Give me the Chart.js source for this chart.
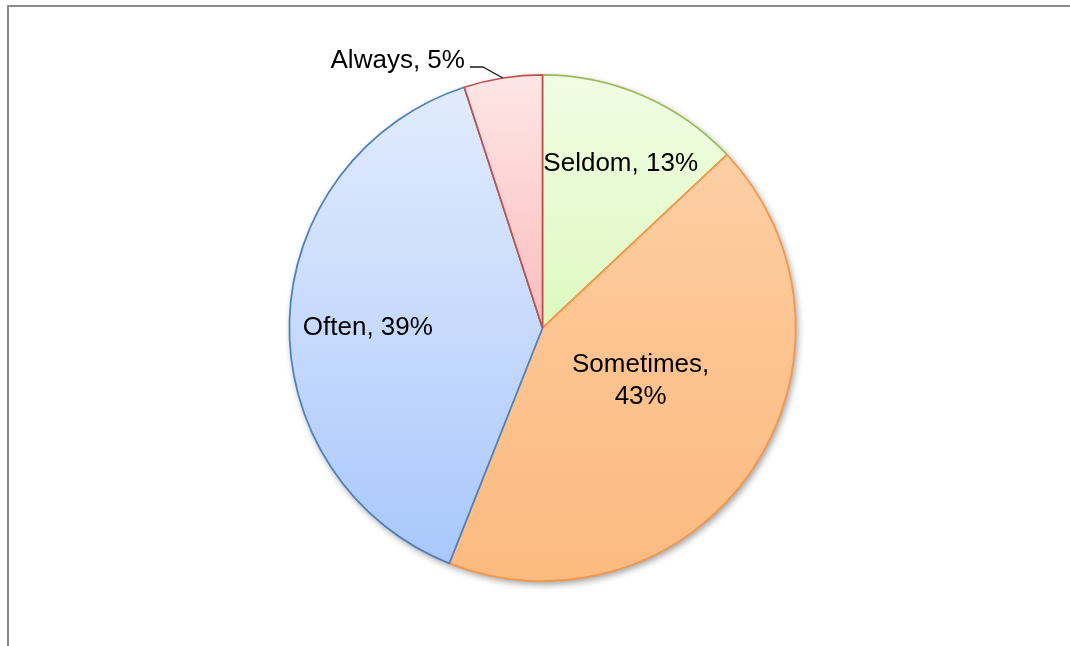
<!DOCTYPE html>
<html>
<head>
<meta charset="utf-8">
<title>How often</title>
<script src="https://cdn.jsdelivr.net/npm/chart.js@4.4.1/dist/chart.umd.min.js"></script>
<style>
  html, body { margin: 0; padding: 0; background: #fff; }
  .wrap { width: 1070px; height: 646px; }
</style>
</head>
<body>
<div class="wrap"><canvas id="pieChart"></canvas></div>
<script>
const categories = ['Seldom', 'Sometimes', 'Often', 'Always'];
const shares = [13, 43, 39, 5];

const edgeColors = ['#9bbb59', '#f79646', '#4f81bd', '#c0504d'];
const fillStops = [
    ['#f1fde4', '#def8c0', '#cbf29e'],
    ['#fdd3ae', '#fdc592', '#fbba80'],
    ['#e2ecfd', '#c7dafc', '#a6c6fc'],
    ['#fee6e6', '#fbbdbd', '#f9a3a3']
];
// label spot per slice: fraction of radius + small angle nudge (deg)
const labelPlace = [
    { r: 0.72, da: 2 },
    { r: 0.44, da: -6, wrap: true },
    { r: 0.69, da: -1.6 },
    { outside: true }
];

function sliceFill(context) {
    const i = context.dataIndex;
    const area = context.chart.chartArea;
    if (!area) return fillStops[i][1];
    const g = context.chart.ctx.createLinearGradient(0, area.top, 0, area.bottom);
    g.addColorStop(0, fillStops[i][0]);
    g.addColorStop(0.5, fillStops[i][1]);
    g.addColorStop(1, fillStops[i][2]);
    return g;
}

const framePlugin = {
    id: 'frame',
    beforeDraw(chart) {
        const c = chart.ctx;
        c.save();
        c.fillStyle = '#fff';
        c.fillRect(0, 0, chart.width, chart.height);
        c.fillStyle = '#8a8a8a';
        c.fillRect(7, 5, chart.width - 7, 2);
        c.fillRect(7, 5, 2, chart.height - 5);
        c.restore();
    }
};

const shadowPlugin = {
    id: 'pieShadow',
    beforeDatasetsDraw(chart) {
        const arc = chart.getDatasetMeta(0).data[0];
        if (!arc) return;
        const c = chart.ctx;
        c.save();
        c.shadowColor = 'rgba(0,0,0,0.4)';
        c.shadowBlur = 7;
        c.shadowOffsetX = 2;
        c.shadowOffsetY = 3;
        c.fillStyle = '#fff';
        c.beginPath();
        c.arc(arc.x, arc.y, arc.outerRadius, 0, Math.PI * 2);
        c.fill();
        c.restore();
    }
};

const labelPlugin = {
    id: 'sliceLabels',
    afterDatasetsDraw(chart) {
        const c = chart.ctx;
        const arcs = chart.getDatasetMeta(0).data;
        c.save();
        c.font = '26px "Liberation Sans", Arial, sans-serif';
        c.fillStyle = '#000';
        arcs.forEach((arc, i) => {
            const place = labelPlace[i];
            const text = categories[i] + ', ' + shares[i] + '%';
            const mid = (arc.startAngle + arc.endAngle) / 2;
            if (place.outside) {
                // leader line from the rim out to the label
                const ex = arc.x + arc.outerRadius * Math.cos(mid);
                const ey = arc.y + arc.outerRadius * Math.sin(mid);
                const bx = ex - 20, by = ey - 11;
                c.strokeStyle = '#1a1a1a';
                c.lineWidth = 1.3;
                c.beginPath();
                c.moveTo(ex, ey);
                c.lineTo(bx, by);
                c.lineTo(bx - 13, by);
                c.stroke();
                c.textAlign = 'right';
                c.textBaseline = 'alphabetic';
                c.fillText(text, bx - 18, by + 1);
                return;
            }
            const a = mid + place.da * Math.PI / 180;
            const px = arc.x + arc.outerRadius * place.r * Math.cos(a);
            const py = arc.y + arc.outerRadius * place.r * Math.sin(a);
            c.textAlign = 'center';
            c.textBaseline = 'middle';
            if (place.wrap) {
                c.fillText(categories[i] + ',', px, py - 16);
                c.fillText(shares[i] + '%', px, py + 16);
            } else {
                c.fillText(text, px, py);
            }
        });
        c.restore();
    }
};

const pie = new Chart(document.getElementById('pieChart'), {
    type: 'pie',
    data: {
        labels: categories,
        datasets: [{
            data: shares,
            backgroundColor: sliceFill,
            borderColor: edgeColors,
            borderWidth: 1.75
        }]
    },
    options: {
        responsive: true,
        maintainAspectRatio: false,
        animation: false,
        events: [],
        layout: {
            padding: { left: 240, right: 225, top: 74, bottom: 64 }
        },
        plugins: {
            legend: { display: false },
            tooltip: { enabled: false }
        }
    },
    plugins: [framePlugin, shadowPlugin, labelPlugin]
});
</script>
</body>
</html>
